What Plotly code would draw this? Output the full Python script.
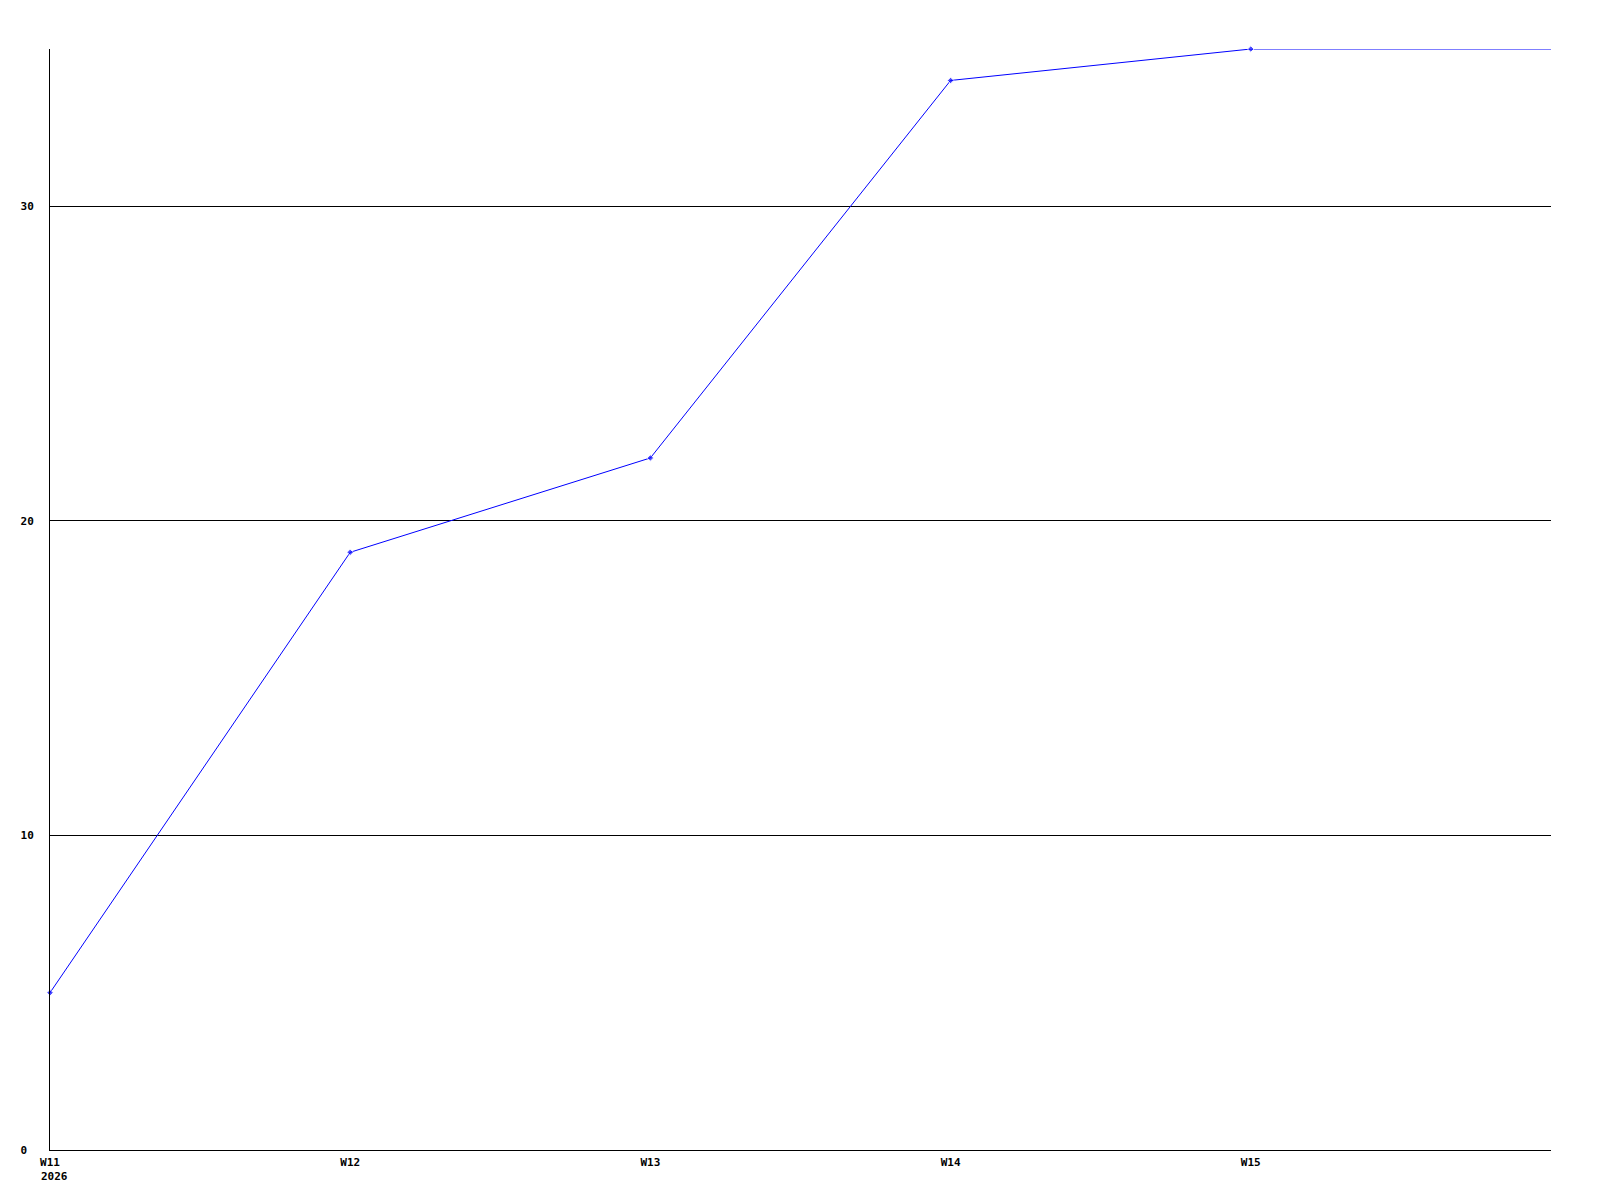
import plotly.graph_objects as go

# semanas (eixo x numérico: W11..W16) e valores acumulados
weeks = [11, 12, 13, 14, 15, 16]
values = [5, 19, 22, 34, 35, 35]
tick_weeks = [11, 12, 13, 14, 15]
tick_labels = ["W11", "W12", "W13", "W14", "W15"]
y_ticks = [0, 10, 20, 30]
y_labels = ["0\u00a0", "10", "20", "30"]  # rótulos alinhados à esquerda
year_label = "2026"

font = dict(family="DejaVu Sans Mono", size=11, color="black", weight="bold")

fig = go.Figure(go.Scatter(
    x=weeks,
    y=values,
    mode="lines+markers",
    line=dict(color="#0000ff", width=1),
    marker=dict(symbol="diamond", size=[5, 5, 5, 5, 5, 0], color="#0000ff"),
    cliponaxis=False,
    hoverinfo="x+y",
))

fig.add_annotation(
    x=11, y=0, xref="x", yref="y",
    text=year_label, showarrow=False,
    xanchor="left", yanchor="top",
    xshift=-11, yshift=-18,
    font=font,
)

# a página tem margem de 8px no body, compensada aqui
fig.update_layout(
    width=1600,
    height=1200,
    margin=dict(l=42, r=57, t=41, b=58),
    paper_bgcolor="white",
    plot_bgcolor="white",
    showlegend=False,
    font=font,
    xaxis=dict(
        range=[11, 16],
        tickvals=tick_weeks,
        ticktext=tick_labels,
        showgrid=False,
        zeroline=False,
        showline=True,
        linecolor="black",
        linewidth=1,
        ticks="",
        ticklabelstandoff=2,
        tickfont=font,
    ),
    yaxis=dict(
        range=[0, 35],
        tickvals=y_ticks,
        ticktext=y_labels,
        showgrid=True,
        gridcolor="black",
        gridwidth=1,
        zeroline=False,
        showline=True,
        linecolor="black",
        linewidth=1,
        ticks="",
        ticklabelstandoff=13,
        tickfont=font,
    ),
)

fig.write_html("out.html")
